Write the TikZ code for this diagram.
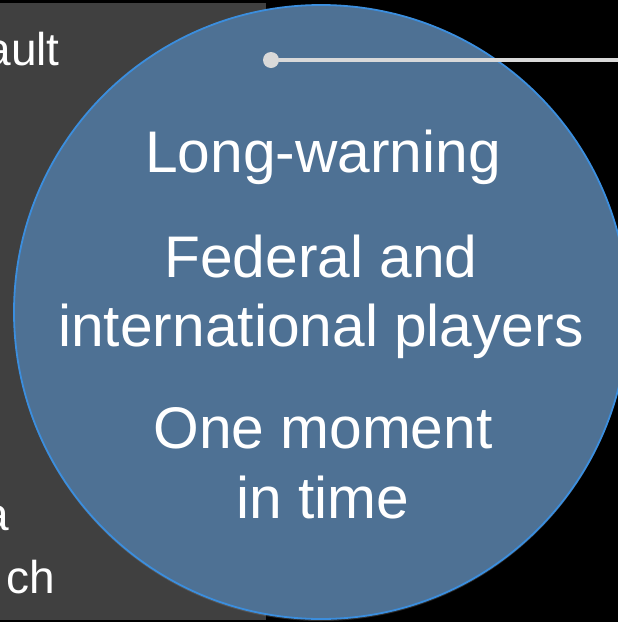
\documentclass[tikz,border=0pt]{standalone}
\usepackage{fontspec}
\setmainfont{Liberation Sans}
\usetikzlibrary{shadows}
\definecolor{slate}{RGB}{64,64,64}
\definecolor{bubblefill}{RGB}{78,113,148}
\definecolor{bubbleedge}{RGB}{59,142,222}
\definecolor{pingray}{RGB}{217,217,217}

\begin{document}
\begin{tikzpicture}[line cap=round,line join=round,x=1pt,y=-1pt,
  big/.style={text=white,inner sep=0,anchor=base,font=\fontsize{58.7}{69}\selectfont},
  side/.style={text=white,inner sep=0,anchor=base east,font=\fontsize{46}{55}\selectfont}]
\fill [black] (0,0) rectangle (618,622);
\useasboundingbox (0,0) rectangle (618,622);
\fill [slate] (0,3) rectangle (266,620);
% words on the left, cut off by the page
\node [side] (lefttop) at (60,65) {ault};
\node [side] (leftmid) at (9,530) {a};
\node [side] (leftlow) at (55,593) {ch};
% the bubble
\node (bubble) [circle,minimum size=614,inner sep=0,outer sep=0,fill=bubblefill,draw=bubbleedge,line width=1.8,
  drop shadow={opacity=0.35,shadow xshift=0pt,shadow yshift=-2pt}] at (321,312) {};
\node [big] (warn) at (323,172) {Long-warning};
\node [big] (federal) at (321,277) {Federal and};
\node [big] (players) at (321,346) {international players};
\node [big] (moment) at (323,448) {One moment};
\node [big] (intime) at (323,518) {in time};
% pointer
\node (dot) [circle,fill=pingray,minimum size=16,inner sep=0] at (271,60) {};
\coordinate (rim) at (618,60);
\draw [draw=pingray,line width=4] (dot) -- (rim);
\end{tikzpicture}
\end{document}
